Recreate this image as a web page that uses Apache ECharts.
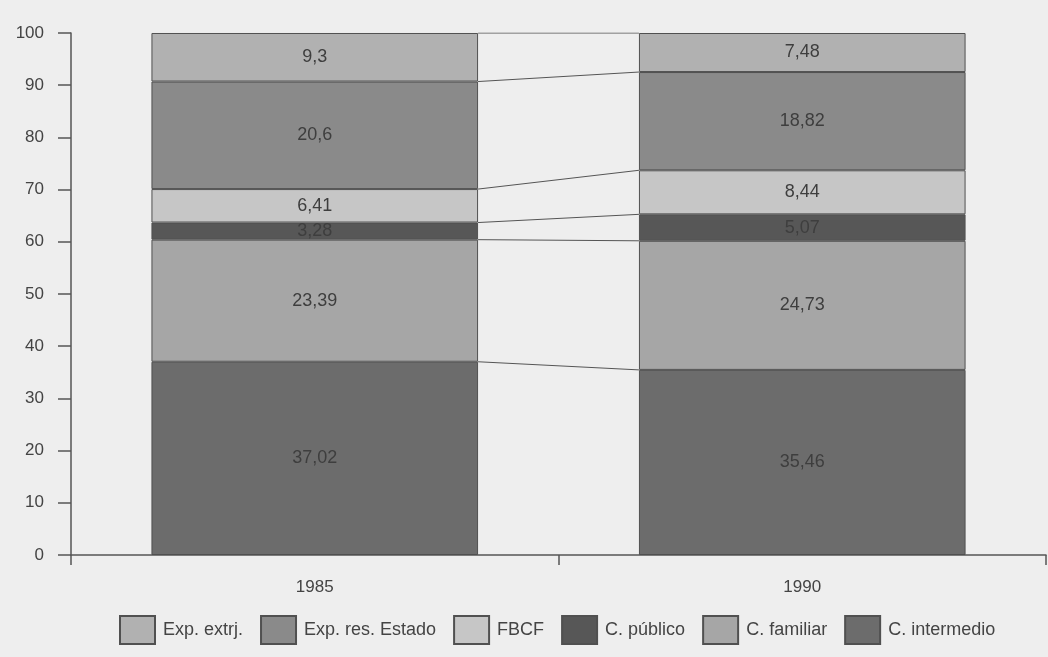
<!DOCTYPE html>
<html>
<head>
<meta charset="utf-8">
<script src="https://cdn.jsdelivr.net/npm/echarts@6/dist/echarts.min.js"></script>
<style>
html,body{margin:0;padding:0;background:#eeeeee;}
#c{width:1048px;height:657px;}
</style>
</head>
<body>
<div id="c"></div>
<script>
const categories = ['1985', '1990'];
const seriesNames = ['C. intermedio', 'C. familiar', 'C. público', 'FBCF', 'Exp. res. Estado', 'Exp. extrj.'];
const cIntermedio = [37.02, 35.46];
const cFamiliar = [23.39, 24.73];
const cPublico = [3.28, 5.07];
const fbcf = [6.41, 8.44];
const expResEstado = [20.6, 18.82];
const expExtrj = [9.3, 7.48];
const yTicks = [0, 10, 20, 30, 40, 50, 60, 70, 80, 90, 100];

const values = [cIntermedio, cFamiliar, cPublico, fbcf, expResEstado, expExtrj];
const colors = ['#6c6c6c', '#a6a6a6', '#575757', '#c6c6c6', '#8a8a8a', '#b1b1b1'];
const legendOrder = ['Exp. extrj.', 'Exp. res. Estado', 'FBCF', 'C. público', 'C. familiar', 'C. intermedio'];
const FONT = 'Liberation Sans, Arial, sans-serif';

const barFrac = 0.67;
const series = [];
values.forEach((v, i) => {
  series.push({
    name: seriesNames[i],
    type: 'bar',
    stack: 'total',
    barWidth: (barFrac * 100) + '%',
    data: v,
    itemStyle: { color: colors[i], borderColor: '#505050', borderWidth: 1 },
    label: {
      show: true,
      position: 'inside',
      color: '#3e3e3e',
      fontSize: 18,
      fontFamily: FONT,
      formatter: p => String(p.value).replace('.', ',')
    },
    emphasis: { disabled: true }
  });
});
// connector lines between stack boundaries
let cum0 = 0, cum1 = 0;
values.forEach((v, i) => {
  cum0 += v[0]; cum1 += v[1];
  series.push({
    type: 'line',
    xAxisIndex: 1,
    symbol: 'none',
    silent: true,
    lineStyle: { color: '#555', width: 1 },
    data: [[0.5 + barFrac / 2, +cum0.toFixed(2)], [1.5 - barFrac / 2, +cum1.toFixed(2)]]
  });
});

const chart = echarts.init(document.getElementById('c'));
chart.setOption({
  backgroundColor: '#eeeeee',
  animation: false,
  textStyle: { fontFamily: FONT },
  grid: { left: 71, right: 2, top: 33, bottom: 102 },
  legend: {
    data: legendOrder,
    left: 119,
    top: 615,
    padding: 0,
    icon: 'rect',
    itemWidth: 35,
    itemHeight: 28,
    itemGap: 17,
    textStyle: { color: '#444', fontSize: 18, padding: [6, 0, 0, 3] },
    selectedMode: false
  },
  xAxis: [
    {
      type: 'category',
      data: categories,
      axisLine: { lineStyle: { color: '#555', width: 1.5 } },
      axisTick: { show: true, length: 10, lineStyle: { color: '#555', width: 1.5 } },
      axisLabel: { color: '#444', fontSize: 17, margin: 24 }
    },
    {
      type: 'value', min: 0, max: 2, show: false
    }
  ],
  yAxis: {
    type: 'value',
    min: yTicks[0],
    max: yTicks[yTicks.length - 1],
    interval: 10,
    axisLine: { show: true, lineStyle: { color: '#555', width: 1.5 } },
    axisTick: { show: true, length: 13, lineStyle: { color: '#555', width: 1.5 } },
    axisLabel: { color: '#444', fontSize: 17, margin: 27 },
    splitLine: { show: false }
  },
  series: series
});
</script>
</body>
</html>
